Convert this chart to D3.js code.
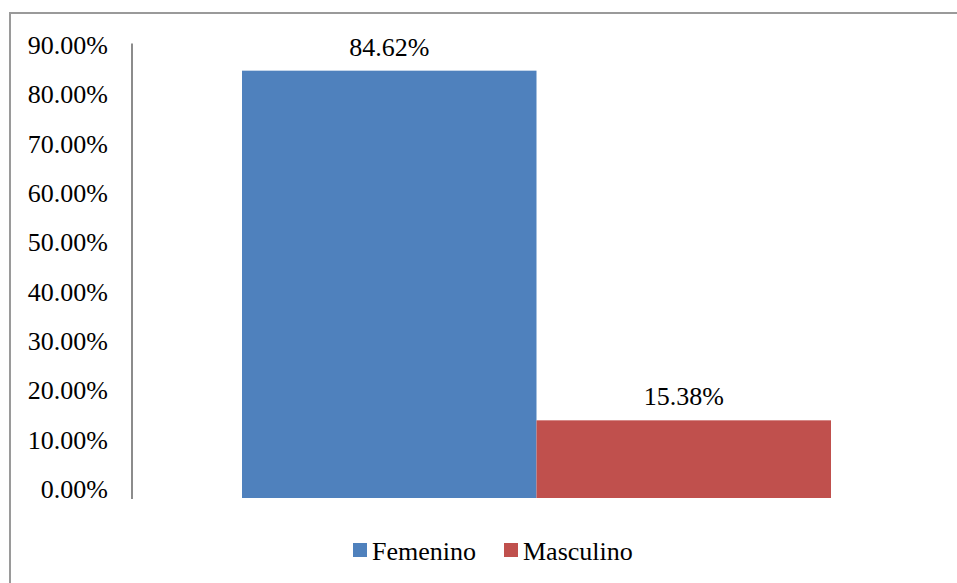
<!DOCTYPE html>
<html>
<head>
<meta charset="utf-8">
<script src="https://cdn.jsdelivr.net/npm/d3@7"></script>
<style>
  html, body { margin: 0; padding: 0; background: #fff; }
  svg { display: block; }
  text { font-family: "Liberation Serif", "Times New Roman", serif; fill: #000; }
</style>
</head>
<body>
<svg id="chart" width="957" height="583"></svg>
<script>
// Distribución por sexo
const categories = ["Femenino", "Masculino"];
const values = [84.62, 15.38];
const colors = ["#4F81BD", "#C0504D"];
const tickValues = [0, 10, 20, 30, 40, 50, 60, 70, 80, 90];

const svg = d3.select("#chart");
const fmt = v => v.toFixed(2) + "%";
const fontSize = 26;

// outer frame of the chart area
svg.append("path")
  .attr("d", "M10,584 L10,13 L958,13")
  .attr("fill", "none")
  .attr("stroke", "#9a9a9a")
  .attr("stroke-width", 2);

// scales
const y = d3.scaleLinear().domain([0, 90]).range([498, 43.5]);
const yLabels = d3.scaleLinear().domain([0, 90]).range([488, 44]);
const x = d3.scaleBand().domain(categories).range([242, 831]).padding(0);

// tick labels
const axis = svg.append("g")
  .attr("transform", "translate(108,0)")
  .call(d3.axisLeft(yLabels).tickValues(tickValues).tickSize(0).tickPadding(0).tickFormat(fmt));
axis.select(".domain").remove();
axis.selectAll("text")
  .attr("font-family", "Liberation Serif, Times New Roman, serif")
  .attr("font-size", fontSize)
  .attr("fill", "#000")
  .attr("dy", "0.36em");

// vertical axis line
svg.append("line")
  .attr("x1", 132).attr("x2", 132)
  .attr("y1", y(90)).attr("y2", y(0) + 1)
  .attr("stroke", "#8c8c8c")
  .attr("stroke-width", 2);

// bars
svg.selectAll("rect.bar")
  .data(categories)
  .join("rect")
  .attr("class", "bar")
  .attr("x", d => x(d))
  .attr("width", x.bandwidth())
  .attr("y", (d, i) => y(values[i]))
  .attr("height", (d, i) => y(0) - y(values[i]))
  .attr("fill", (d, i) => colors[i]);

// value labels
svg.selectAll("text.val")
  .data(categories)
  .join("text")
  .attr("class", "val")
  .attr("x", d => x(d) + x.bandwidth() / 2)
  .attr("y", (d, i) => y(values[i]) - 15)
  .attr("text-anchor", "middle")
  .attr("font-size", fontSize)
  .text((d, i) => fmt(values[i]));

// legend
const legendX = [353, 504];
const lg = svg.selectAll("g.legend")
  .data(categories)
  .join("g")
  .attr("class", "legend")
  .attr("transform", (d, i) => `translate(${legendX[i]},543)`);
lg.append("rect")
  .attr("width", 14).attr("height", 14)
  .attr("fill", (d, i) => colors[i]);
lg.append("text")
  .attr("x", 19).attr("y", 17)
  .attr("font-size", fontSize)
  .text(d => d);
</script>
</body>
</html>
